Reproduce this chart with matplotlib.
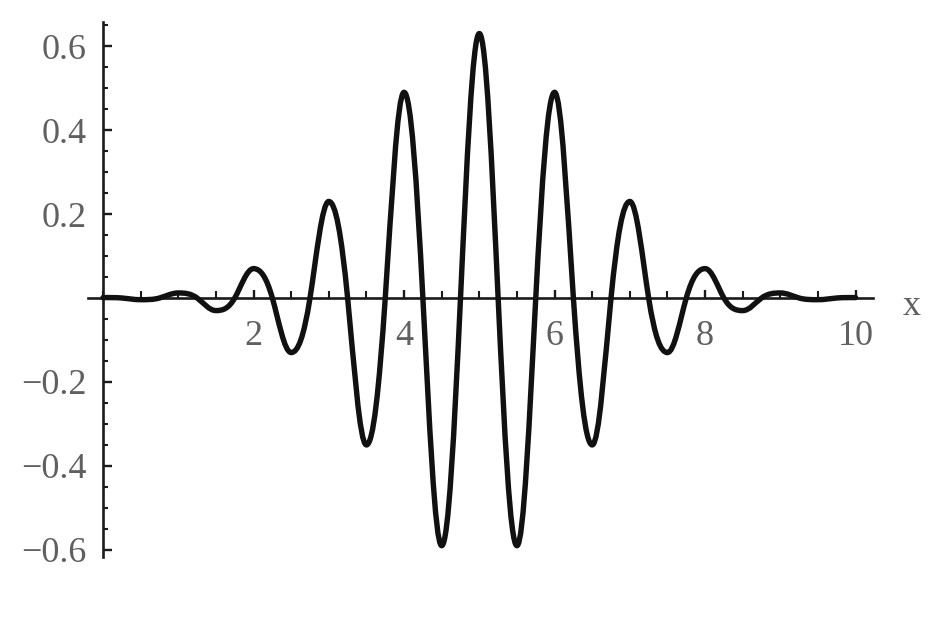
import matplotlib.pyplot as plt
from matplotlib.path import Path
from matplotlib.patches import PathPatch
from matplotlib.ticker import MultipleLocator, FixedLocator


# peaks and troughs (x, y)
ext_x = [0, 0.5, 1, 1.5, 2, 2.5, 3, 3.5, 4, 4.5, 5,
         5.5, 6, 6.5, 7, 7.5, 8, 8.5, 9, 9.5, 10]
ext_y = [0.001, -0.004, 0.012, -0.03, 0.07, -0.13, 0.23, -0.35, 0.49, -0.59, 0.63,
         -0.59, 0.49, -0.35, 0.23, -0.13, 0.07, -0.03, 0.012, -0.004, 0.001]

x_ticks = [2, 4, 6, 8, 10]
y_ticks = [-0.6, -0.4, -0.2, 0.2, 0.4, 0.6]

plt.rcParams["font.family"] = ["Liberation Serif", "DejaVu Serif"]

fig = plt.figure(figsize=(9.48, 6.42), dpi=100)
ax = fig.add_axes([0.0928, 0.1324, 0.828, 0.833])


# smooth lobes between the read extrema, as cubic bezier pieces
verts = [(ext_x[0], ext_y[0])]
codes = [Path.MOVETO]
for i in range(len(ext_x) - 1):
    x0, y0 = ext_x[i], ext_y[i]
    x1, y1 = ext_x[i + 1], ext_y[i + 1]
    xz = (x0 + x1) / 2
    w = xz - x0
    s = 1 if y1 > 0 else -1
    a = (abs(y0) + abs(y1)) / 2
    verts += [(x0 + 0.3605 * w, y0), (xz - 0.3343 * w, -s * 0.5251 * a), (xz, 0)]
    verts += [(xz + 0.3343 * w, s * 0.5251 * a), (x1 - 0.3605 * w, y1), (x1, y1)]
    codes += [Path.CURVE4] * 6

curve = PathPatch(Path(verts, codes), fill=False, edgecolor="#111111", lw=3.9,
                  joinstyle="round", capstyle="round", zorder=3)
ax.add_patch(curve)

ax.set_xlim(-0.2, 10.23)
ax.set_ylim(-0.617, 0.657)

for side in ["top", "right"]:
    ax.spines[side].set_visible(False)
ax.spines["left"].set_position(("data", 0))
ax.spines["bottom"].set_position(("data", 0))
for side in ["left", "bottom"]:
    ax.spines[side].set_linewidth(1.9)
    ax.spines[side].set_color("#1a1a1a")

ax.xaxis.set_major_locator(FixedLocator(x_ticks))
ax.xaxis.set_minor_locator(MultipleLocator(0.5))
ax.yaxis.set_major_locator(FixedLocator(y_ticks))
ax.yaxis.set_minor_locator(MultipleLocator(0.05))
ax.set_xticklabels([str(t) for t in x_ticks])
ax.set_yticklabels([f"{t:.1f}".replace("-", "\u2212") for t in y_ticks])

ax.tick_params(axis="both", which="both", direction="in", color="#1a1a1a",
               labelcolor="#606060", labelsize=26)
ax.tick_params(axis="x", which="major", length=6, width=1.7, pad=16)
ax.tick_params(axis="x", which="minor", length=5, width=1.5)
ax.tick_params(axis="y", which="major", length=6.5, width=1.7, pad=12)
ax.tick_params(axis="y", which="minor", length=3.5, width=1.5)

ax.text(10.75, -0.02, "x", fontsize=26, color="#606060",
        ha="center", va="center", clip_on=False)

fig.savefig("out.png", dpi=100)
